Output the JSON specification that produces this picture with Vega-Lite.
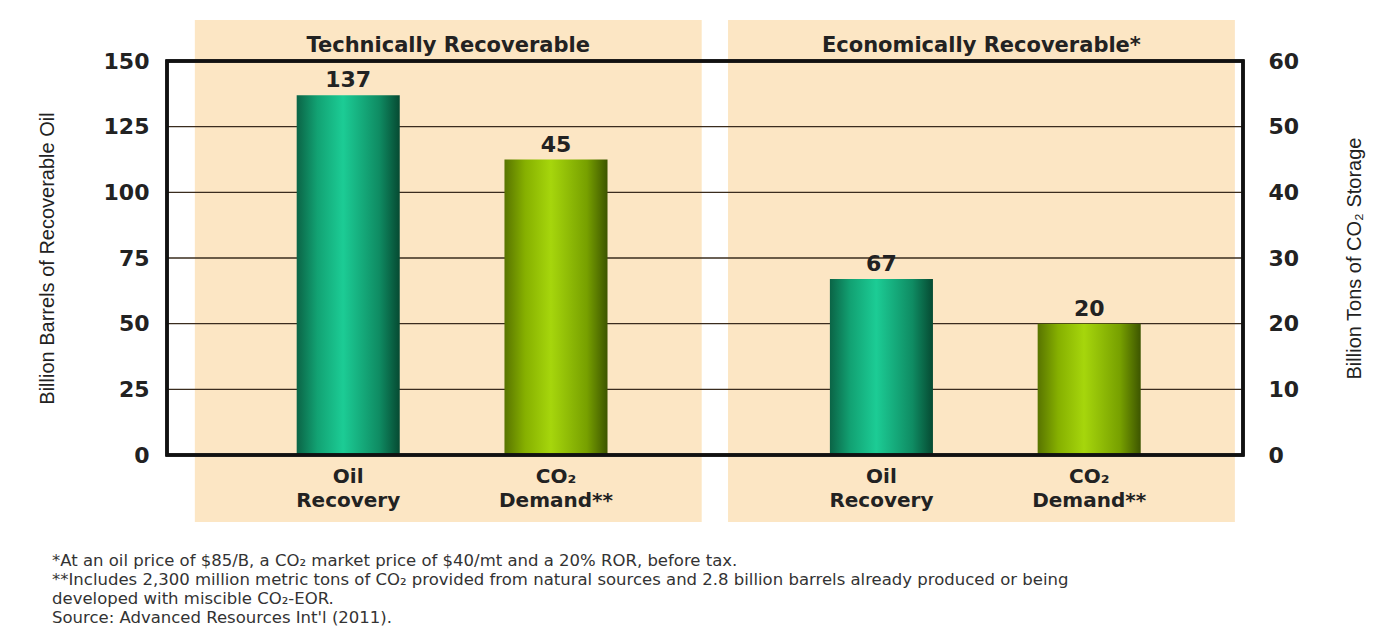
{
  "$schema": "https://vega.github.io/schema/vega-lite/v6.json",
  "width": 1076,
  "height": 394,
  "autosize": "none",
  "padding": {"left": 167, "top": 61, "right": 140, "bottom": 171},
  "background": "white",
  "title": {
    "text": [
      "*At an oil price of $85/B, a CO₂ market price of $40/mt and a 20% ROR, before tax.",
      "**Includes 2,300 million metric tons of CO₂ provided from natural sources and 2.8 billion barrels already produced or being",
      "developed with miscible CO₂-EOR.",
      "Source: Advanced Resources Int'l (2011)."
    ],
    "orient": "bottom",
    "anchor": "start",
    "frame": "group",
    "font": "DejaVu Sans",
    "fontSize": 16.5,
    "fontWeight": "normal",
    "color": "#333333",
    "lineHeight": 19,
    "offset": 31,
    "dx": -115
  },
  "data": {
    "values": [
      {"panel": "Technically Recoverable", "item": "Oil Recovery", "value": 137},
      {"panel": "Technically Recoverable", "item": "CO₂ Demand**", "value": 45},
      {"panel": "Economically Recoverable*", "item": "Oil Recovery", "value": 67},
      {"panel": "Economically Recoverable*", "item": "CO₂ Demand**", "value": 20}
    ]
  },
  "layer": [
    {
      "layer": [
        {
          "mark": {"type": "rect", "fill": "#fce6c4", "clip": false},
          "encoding": {
            "x": {"field": "panel", "type": "nominal",
              "scale": {"domain": ["Technically Recoverable", "Economically Recoverable*"], "paddingInner": 0.05, "paddingOuter": 0.034, "align": 0.77},
              "axis": {"orient": "top", "title": null, "domain": false, "ticks": false, "labelAngle": 0, "labelLimit": 0,
                "labelFont": "DejaVu Sans", "labelFontWeight": "bold", "labelFontSize": 21, "labelColor": "#222222", "labelPadding": 6, "zindex": 1}},
            "y": {"datum": 165.6, "type": "quantitative"},
            "y2": {"datum": -25.5}
          }
        },
        {
          "data": {"values": [{"g": 25}, {"g": 50}, {"g": 75}, {"g": 100}, {"g": 125}]},
          "mark": {"type": "rule", "color": "#3a2c1e", "strokeWidth": 1.3},
          "encoding": {
            "y": {"field": "g", "type": "quantitative"}
          }
        },
        {
          "transform": [{"filter": "datum.item === 'Oil Recovery'"}],
          "mark": {"type": "bar", "fill": {"gradient": "linear", "x1": 0, "y1": 0, "x2": 1, "y2": 0,
            "stops": [{"offset": 0, "color": "#0b6446"}, {"offset": 0.2, "color": "#12a273"}, {"offset": 0.45, "color": "#1ccc95"}, {"offset": 0.8, "color": "#0f8c63"}, {"offset": 1, "color": "#064a32"}]}},
          "encoding": {
            "x": {"field": "panel", "type": "nominal"},
            "xOffset": {"field": "item", "type": "nominal", "scale": {"domain": ["Oil Recovery", "CO₂ Demand**"], "paddingInner": 0.504, "paddingOuter": 0.471, "align": 0.52}},
            "y": {"field": "value", "type": "quantitative",
              "scale": {"domain": [0, 150], "nice": false, "zero": true},
              "axis": {"orient": "left", "values": [0, 25, 50, 75, 100, 125, 150], "grid": false, "domain": false, "ticks": false,
                "labelFont": "DejaVu Sans", "labelFontWeight": "bold", "labelFontSize": 22, "labelColor": "#222222", "labelPadding": 18,
                "title": "Billion Barrels of Recoverable Oil", "titleFont": "Liberation Sans", "titleFontWeight": "normal", "titleFontSize": 20, "titleColor": "#222222", "titlePadding": 46}}
          }
        },
        {
          "transform": [{"filter": "datum.item === 'Oil Recovery'"}],
          "mark": {"type": "text", "font": "DejaVu Sans", "fontWeight": "bold", "fontSize": 22, "color": "#222222", "baseline": "bottom", "dy": -3},
          "encoding": {
            "x": {"field": "panel", "type": "nominal"},
            "xOffset": {"field": "item", "type": "nominal"},
            "y": {"field": "value", "type": "quantitative"},
            "text": {"field": "value", "type": "quantitative"}
          }
        },
        {
          "mark": {"type": "text", "font": "DejaVu Sans", "fontWeight": "bold", "fontSize": 20, "color": "#222222", "baseline": "top", "dy": 12, "lineBreak": " ", "lineHeight": 24},
          "encoding": {
            "x": {"field": "panel", "type": "nominal"},
            "xOffset": {"field": "item", "type": "nominal"},
            "y": {"datum": 0, "type": "quantitative"},
            "text": {"field": "item", "type": "nominal"}
          }
        }
      ]
    },
    {
      "layer": [
        {
          "transform": [{"filter": "datum.item !== 'Oil Recovery'"}],
          "mark": {"type": "bar", "fill": {"gradient": "linear", "x1": 0, "y1": 0, "x2": 1, "y2": 0,
            "stops": [{"offset": 0, "color": "#587400"}, {"offset": 0.2, "color": "#86b000"}, {"offset": 0.45, "color": "#a6d60c"}, {"offset": 0.8, "color": "#77a000"}, {"offset": 1, "color": "#3d5500"}]}},
          "encoding": {
            "x": {"field": "panel", "type": "nominal"},
            "xOffset": {"field": "item", "type": "nominal"},
            "y": {"field": "value", "type": "quantitative",
              "scale": {"domain": [0, 60], "nice": false, "zero": true},
              "axis": {"orient": "right", "values": [0, 10, 20, 30, 40, 50, 60], "grid": false, "domain": false, "ticks": false,
                "labelFont": "DejaVu Sans", "labelFontWeight": "bold", "labelFontSize": 22, "labelColor": "#222222", "labelPadding": 25,
                "title": "Billion Tons of CO₂ Storage", "titleAngle": 270, "titleFont": "Liberation Sans", "titleFontWeight": "normal", "titleFontSize": 20, "titleColor": "#222222", "titlePadding": 66}}
          }
        },
        {
          "transform": [{"filter": "datum.item !== 'Oil Recovery'"}],
          "mark": {"type": "text", "font": "DejaVu Sans", "fontWeight": "bold", "fontSize": 22, "color": "#222222", "baseline": "bottom", "dy": -3},
          "encoding": {
            "x": {"field": "panel", "type": "nominal"},
            "xOffset": {"field": "item", "type": "nominal"},
            "y": {"field": "value", "type": "quantitative"},
            "text": {"field": "value", "type": "quantitative"}
          }
        },
        {
          "mark": {"type": "rect", "fillOpacity": 0, "stroke": "#111111", "strokeWidth": 3},
          "encoding": {
            "y": {"datum": 60, "type": "quantitative"},
            "y2": {"datum": 0}
          }
        }
      ]
    }
  ],
  "resolve": {"scale": {"y": "independent"}},
  "config": {"view": {"stroke": null}}
}
